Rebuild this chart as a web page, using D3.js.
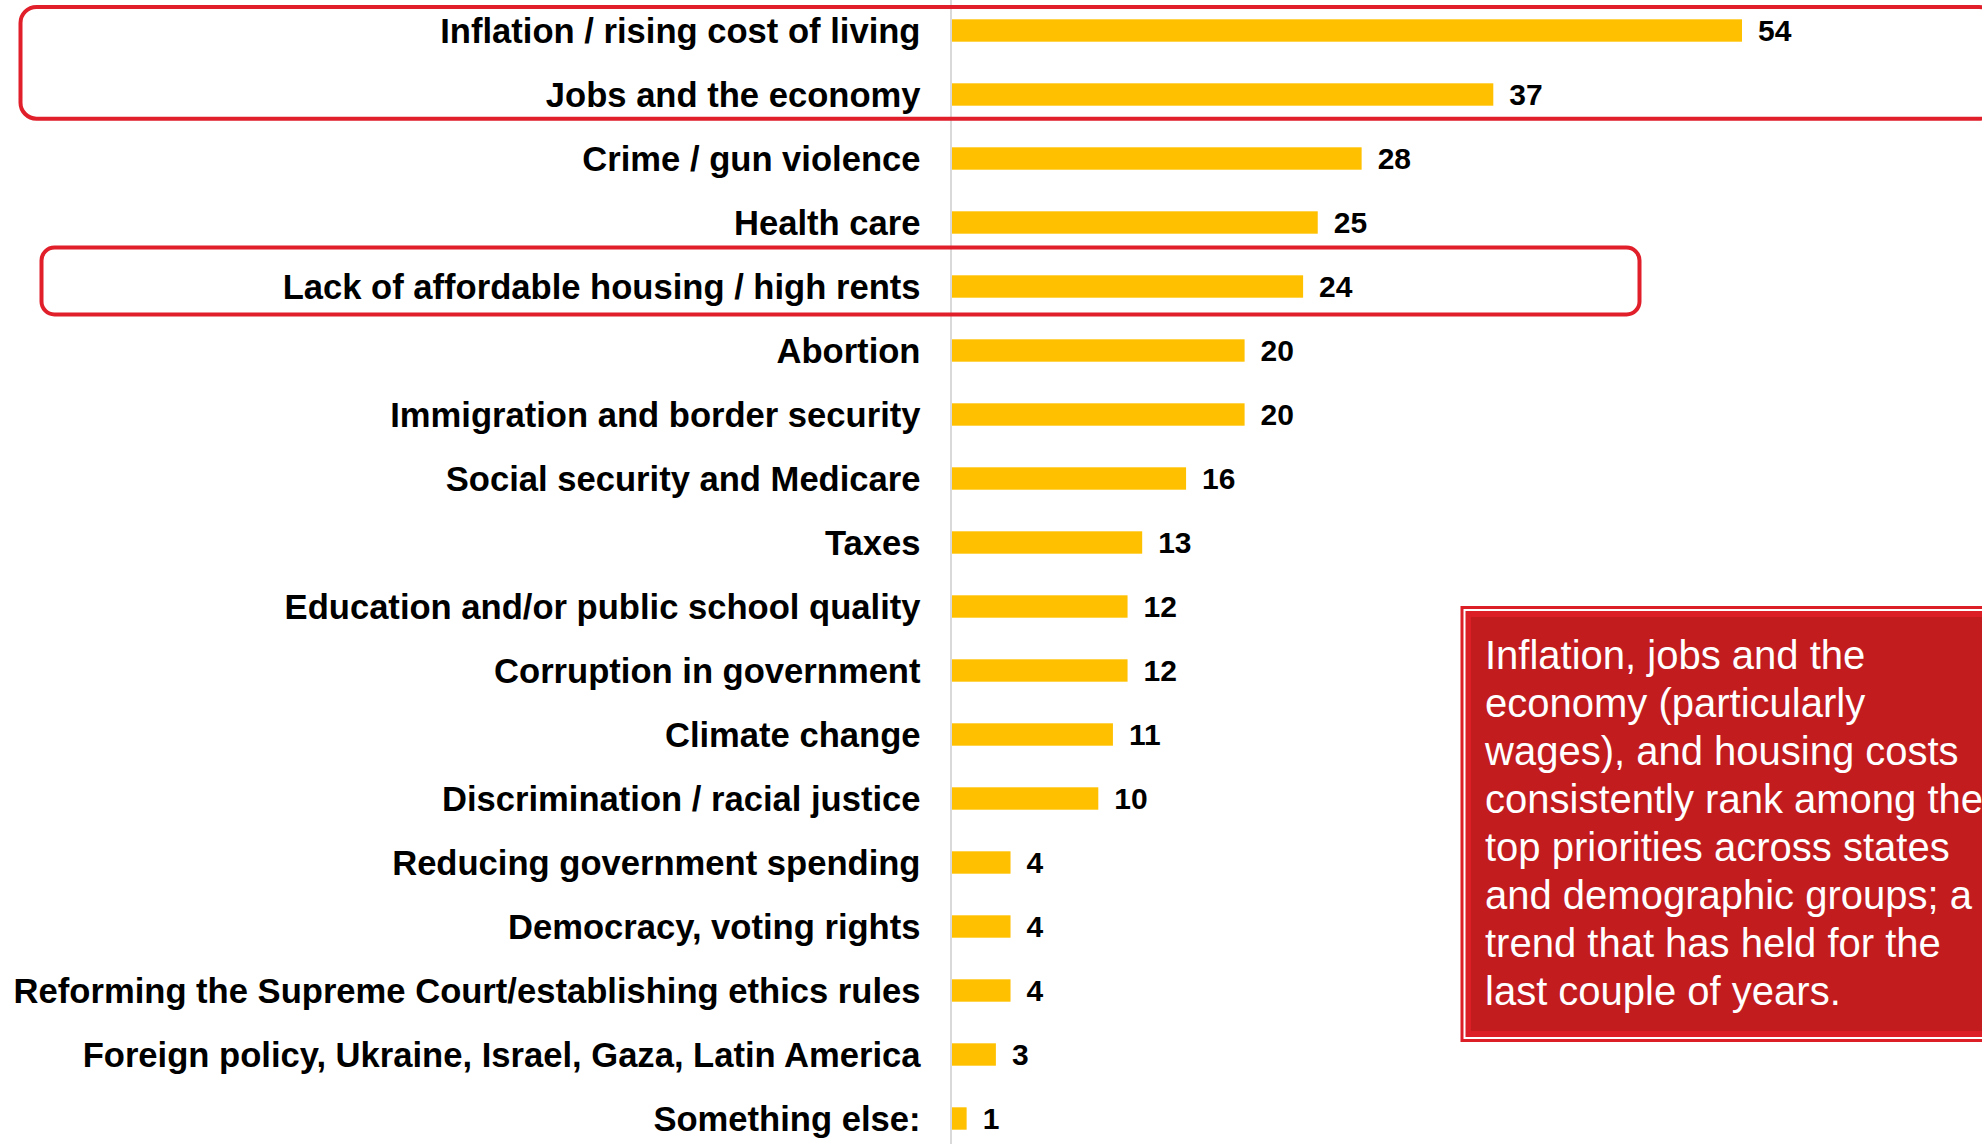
<!DOCTYPE html>
<html>
<head>
<meta charset="utf-8">
<script src="https://cdn.jsdelivr.net/npm/d3@7/dist/d3.min.js"></script>
<style>
  html, body { margin: 0; padding: 0; background: #ffffff; overflow: hidden; }
  svg { display: block; }
</style>
</head>
<body>
<svg id="chart" width="1982" height="1144"></svg>
<script>
// ---- data ----
const categories = [
  "Inflation / rising cost of living",
  "Jobs and the economy",
  "Crime / gun violence",
  "Health care",
  "Lack of affordable housing / high rents",
  "Abortion",
  "Immigration and border security",
  "Social security and Medicare",
  "Taxes",
  "Education and/or public school quality",
  "Corruption in government",
  "Climate change",
  "Discrimination / racial justice",
  "Reducing government spending",
  "Democracy, voting rights",
  "Reforming the Supreme Court/establishing ethics rules",
  "Foreign policy, Ukraine, Israel, Gaza, Latin America",
  "Something else:"
];
const values = [54, 37, 28, 25, 24, 20, 20, 16, 13, 12, 12, 11, 10, 4, 4, 4, 3, 1];
const highlightFirst = ["Inflation / rising cost of living", "Lack of affordable housing / high rents"];
const highlightLast = ["Jobs and the economy", "Lack of affordable housing / high rents"];
const calloutLines = [
  "Inflation, jobs and the",
  "economy (particularly",
  "wages), and housing costs",
  "consistently rank among the",
  "top priorities across states",
  "and demographic groups; a",
  "trend that has held for the",
  "last couple of years."
];

// ---- layout ----
const svg = d3.select("#chart");
const FONT = "'Liberation Sans', Arial, sans-serif";
const axisX = 950.5;

const x = d3.scaleLinear().domain([0, 54]).range([952, 1742]);
const y = d3.scaleBand()
  .domain(categories)
  .range([-1.5, -1.5 + 64 * categories.length])
  .paddingInner(0.65)
  .paddingOuter(0.325);

// bars
svg.append("g").selectAll("rect")
  .data(categories)
  .join("rect")
  .attr("x", x(0))
  .attr("y", d => y(d))
  .attr("width", (d, i) => x(values[i]) - x(0))
  .attr("height", y.bandwidth())
  .attr("fill", "#ffc000");

// axis with category labels
const yAxis = d3.axisLeft(y).tickSize(0).tickSizeOuter(0).tickPadding(30);
const gAxis = svg.append("g")
  .attr("transform", `translate(${axisX},0)`)
  .call(yAxis);
gAxis.select(".domain").attr("stroke", "#d9d9d9").attr("stroke-width", 2);
gAxis.selectAll("text")
  .attr("font-family", FONT)
  .attr("font-weight", "bold")
  .attr("font-size", 34.6)
  .attr("fill", "#000")
  .attr("dy", "0.35em");

// value labels
svg.append("g").selectAll("text")
  .data(categories)
  .join("text")
  .attr("x", (d, i) => x(values[i]) + 16)
  .attr("y", d => y(d) + y.bandwidth() / 2)
  .attr("dy", "0.36em")
  .attr("font-family", FONT)
  .attr("font-weight", "bold")
  .attr("font-size", 30)
  .attr("fill", "#000")
  .text((d, i) => values[i]);

// highlight outlines
const hl = svg.append("g");
const hlBoxes = [
  { i: 0, x0: 20.5, x1: 1995, r: 16, padTop: 12.3, padBottom: 13 },
  { i: 1, x0: 41.5, x1: 1639.5, r: 13, padTop: 27.8, padBottom: 16.8 }
];
hlBoxes.forEach(b => {
  const y0 = y(highlightFirst[b.i]) - b.padTop;
  const y1 = y(highlightLast[b.i]) + y.bandwidth() + b.padBottom;
  hl.append("rect")
    .attr("x", b.x0)
    .attr("y", y0)
    .attr("width", b.x1 - b.x0)
    .attr("height", y1 - y0)
    .attr("rx", b.r)
    .attr("fill", "none")
    .attr("stroke", "#e01f2a")
    .attr("stroke-width", 4);
});

// callout box
const cb = svg.append("g");
cb.append("rect").attr("x", 1460.5).attr("y", 606).attr("width", 560).attr("height", 436).attr("fill", "#dc1f26");
cb.append("rect").attr("x", 1464.5).attr("y", 610).attr("width", 560).attr("height", 428)
  .attr("fill", "none").attr("stroke", "#ffffff").attr("stroke-width", 2);
cb.append("rect").attr("x", 1471).attr("y", 617).attr("width", 560).attr("height", 414).attr("fill", "#c21c1f");

cb.append("g").selectAll("text")
  .data(calloutLines)
  .join("text")
  .attr("x", 1485)
  .attr("y", (d, i) => 668.5 + i * 48)
  .attr("font-family", FONT)
  .attr("font-size", 40)
  .attr("fill", "#ffffff")
  .text(d => d);
</script>
</body>
</html>
